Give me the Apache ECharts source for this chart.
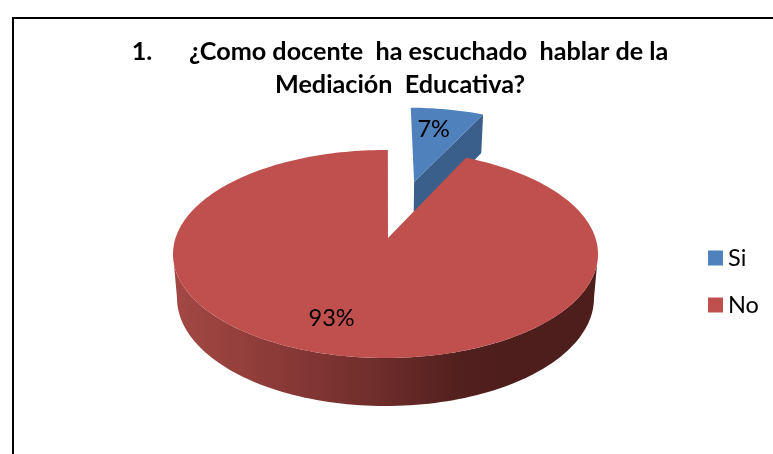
<!DOCTYPE html>
<html><head><meta charset="utf-8">
<style>html,body{margin:0;padding:0;background:#fff}#c{width:773px;height:454px}</style>
<script src="https://cdn.jsdelivr.net/npm/echarts@6/dist/echarts.min.js"></script>
</head><body><div id="c"></div>
<script>
const categories = ['Si', 'No'];
const values = [7, 93];
const colors = ['#4F81BD', '#C0504D'];
const wallColor = '#3A5F8B';
const titleLines = ['1.      ¿Como docente  ha escuchado  hablar de la', 'Mediación  Educativa?'];

// Tilted-pie projection: top ellipse, base ellipse, and where the pie's centre falls in the top ellipse
const TOP = {cx: 385.5, cy: 254, rx: 212.5, ry: 104};
const BASE = {cx: 385.5, cy: 298, rx: 208.5, ry: 108};
const APEX = {x: 388, y: 238};
const px = (APEX.x - TOP.cx) / TOP.rx, py = (APEX.y - TOP.cy) / TOP.ry;
const pLen = Math.hypot(px, py), nx = px / pLen, ny = py / pLen;
function project(x, y, z) {
  const par = x * nx + y * ny, perp = x * -ny + y * nx;
  const d = 1 + pLen * par;
  const vPar = (par + pLen) / d, vPerp = perp * Math.sqrt(1 - pLen * pLen) / d;
  const X = vPar * nx - vPerp * ny, Y = vPar * ny + vPerp * nx;
  const E = z ? BASE : TOP;
  return [E.cx + E.rx * X, E.cy + E.ry * Y];
}
const total = values.reduce((s, v) => s + v, 0);
const firstAngle = 0;
const explode = [0.6175, 0];
const explodeShiftX = [0.002, 0];
const rad = d => d * Math.PI / 180;
let acc = firstAngle;
const slices = values.map((v, i) => {
  const s = {start: acc, end: acc + v / total * 360};
  acc = s.end;
  const mid = rad((s.start + s.end) / 2);
  s.ox = Math.sin(mid) * explode[i] + explodeShiftX[i];
  s.oy = -Math.cos(mid) * explode[i];
  return s;
});
function rim(s, deg, z, r) {
  const t = rad(deg); const R = r === undefined ? 1 : r;
  return project(s.ox + R * Math.sin(t), s.oy - R * Math.cos(t), z);
}
function arc(s, from, to, z) {
  const pts = []; const n = Math.max(2, Math.ceil(Math.abs(to - from) / 1.5));
  for (let i = 0; i <= n; i++) pts.push(rim(s, from + (to - from) * i / n, z));
  return pts;
}
const labelFont = '23.5px Lato, Carlito, sans-serif';
function poly(points, fill) {
  return {type: 'polygon', shape: {points}, style: {fill}, silent: true};
}
function renderSlice(i) {
  const s = slices[i];
  const apexT = project(s.ox, s.oy, 0), apexB = project(s.ox, s.oy, 1);
  const children = [];
  if (i === 0) {
    const e = rim(s, s.end, 0), eb = rim(s, s.end, 1);
    children.push(poly([apexT, e, eb, apexB], wallColor));
    children.push(poly([apexT].concat(arc(s, s.start, s.end, 0)), colors[0]));
    const lp = rim(s, (s.start + s.end) / 2 - 2, 0, 0.68);
    children.push({type: 'text', style: {text: values[0] + '%', x: lp[0], y: lp[1] - 1, font: labelFont, fill: '#000', align: 'center', verticalAlign: 'middle'}, z2: 5});
  } else {
    const side = Math.acos(py) * 180 / Math.PI;
    const top = arc(s, side, 360 - side, 0), bot = arc(s, 360 - side, side, 1);
    children.push(poly(top.concat(bot), {
      type: 'linear', x: 0, y: 0, x2: 1, y2: 0,
      colorStops: [
        {offset: 0, color: '#A44844'}, {offset: 0.25, color: '#8A3A37'}, {offset: 0.5, color: '#6C2C2A'},
        {offset: 0.67, color: '#52201E'}, {offset: 0.78, color: '#4E1E1C'}, {offset: 1, color: '#4E1E1C'}
      ]
    }));
    children.push(poly([apexT].concat(arc(s, s.start, s.end, 0)), colors[1]));
    const lp = rim(s, (s.start + s.end) / 2, 0, 0.72);
    children.push({type: 'text', style: {text: values[1] + '%', x: lp[0] - 19.5, y: lp[1], font: labelFont, fill: '#000', align: 'center', verticalAlign: 'middle'}, z2: 5});
  }
  return {type: 'group', children};
}
const series = categories.map((name, i) => ({
  type: 'custom', name, coordinateSystem: 'none',
  itemStyle: {color: colors[i]},
  data: [values[i]],
  renderItem: () => renderSlice(i)
}));
const chart = echarts.init(document.getElementById('c'), null, {renderer: 'canvas'});
chart.setOption({
  animation: false,
  backgroundColor: '#fff',
  title: {
    text: titleLines.join('\n'), left: 395, top: 30, textAlign: 'center',
    textStyle: {fontFamily: 'Lato, Carlito, sans-serif', fontWeight: 'bold', fontSize: 25.2, lineHeight: 33, color: '#000'}
  },
  legend: {
    data: categories, orient: 'vertical', left: 708, top: 246, padding: 0, itemWidth: 15, itemHeight: 15, itemGap: 23, itemStyle: {borderWidth: 0},
    icon: 'rect',
    textStyle: {fontFamily: 'Lato, Carlito, sans-serif', fontSize: 23.5, color: '#000'}
  },
  graphic: [{type: 'rect', shape: {x: 13, y: 18, width: 800, height: 480}, style: {fill: 'none', stroke: '#000', lineWidth: 2}, silent: true}],
  series
});
</script></body></html>
